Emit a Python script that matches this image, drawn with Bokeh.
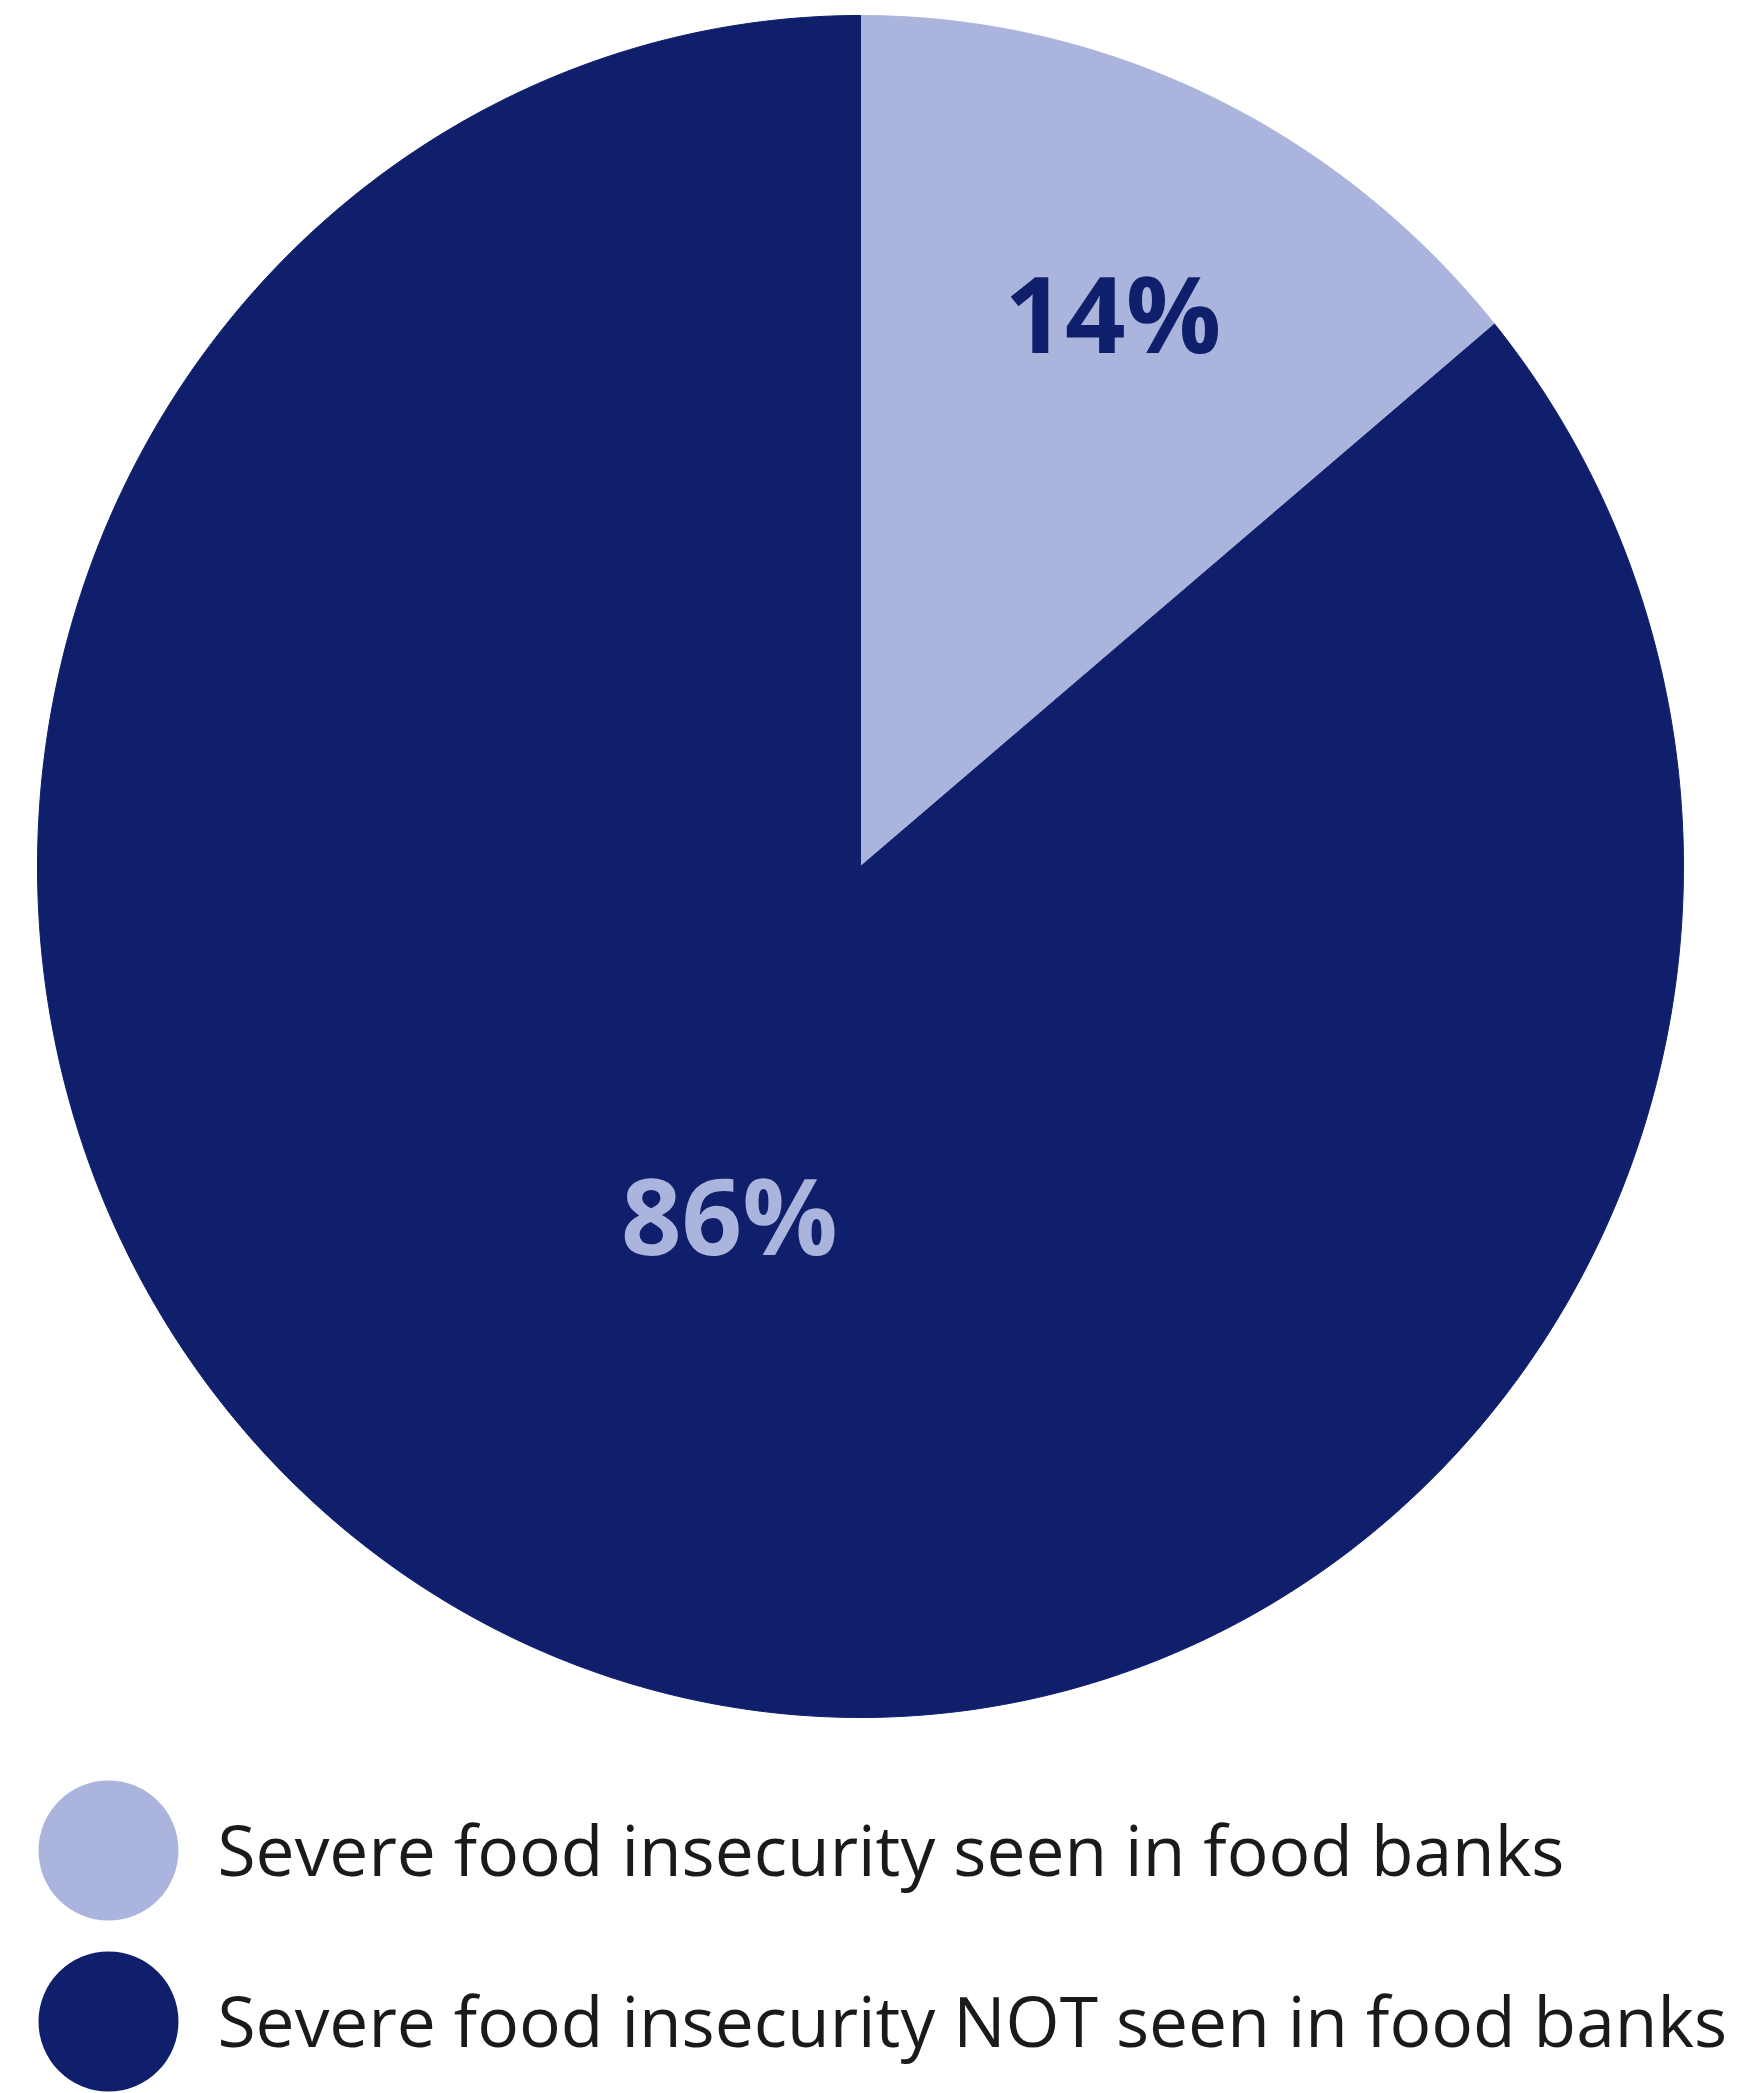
import numpy as np
from bokeh.plotting import figure
from bokeh.models import Range1d, ColumnDataSource
from bokeh.core.properties import value
from bokeh.embed import file_html
from bokeh.resources import INLINE

# ---- data ----
categories = ["Severe food insecurity seen in food banks",
              "Severe food insecurity NOT seen in food banks"]
shares = [14, 86]
labels = ["14%", "86%"]
colors = ["#AAB4DC", "#0F1F6C"]
label_colors = ["#0F1F6C", "#AAB4DC"]

# ---- layout (screen pixels) ----
W, H = 1756, 2093
cx, cy = 860, 866
rx, ry = 823, 851

p = figure(width=W, height=H, output_backend="svg", toolbar_location=None,
           x_range=Range1d(0, W), y_range=Range1d(H, 0),
           min_border=0)
p.axis.visible = False
p.grid.visible = False
p.outline_line_color = None
p.background_fill_color = "white"

# pie slices as polygons, angles measured clockwise from top
total = float(sum(shares))
fr = np.cumsum([0] + shares) / total
xs, ys = [], []
for i in range(len(shares)):
    a = np.linspace(fr[i], fr[i + 1], 400) * 2 * np.pi
    px = [cx] + list(cx + rx * np.sin(a)) + [cx]
    py = [cy] + list(cy - ry * np.cos(a)) + [cy]
    xs.append(px)
    ys.append(py)
p.patches(xs=xs, ys=ys, fill_color=colors, line_color=colors, line_width=1)

# slice labels
label_pos_frac = [0.72, 0.44]
label_nudge = [(0, 0), (23, 9)]
lx, ly = [], []
for i in range(len(shares)):
    mid = (fr[i] + fr[i + 1]) / 2 * 2 * np.pi
    lx.append(cx + label_pos_frac[i] * rx * np.sin(mid) + label_nudge[i][0])
    ly.append(cy - label_pos_frac[i] * ry * np.cos(mid) + label_nudge[i][1])
src = ColumnDataSource(dict(x=lx, y=ly, t=labels, c=label_colors))
p.text(x="x", y="y", text="t", text_color="c", source=src,
       text_font=value("Open Sans"), text_font_style="bold",
       text_font_size="106px", text_align="center", text_baseline="middle")

# legend
leg_x = 108
leg_y = [1850, 2021]
p.scatter(x=[leg_x] * 2, y=leg_y, size=140, marker="circle",
          fill_color=colors, line_color=None)
p.text(x=[217] * 2, y=[y - 2 for y in leg_y], text=categories,
       text_color="#1a1a1a", text_font=value("Open Sans"),
       text_font_size="69.5px", text_align="left", text_baseline="middle")

open("out.html", "w").write(file_html(p, INLINE))
